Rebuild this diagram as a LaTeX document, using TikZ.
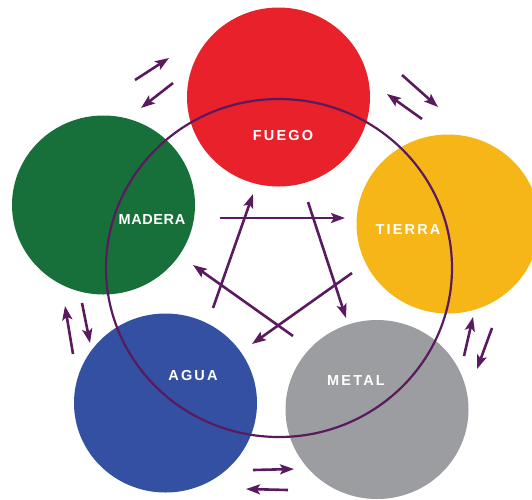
\documentclass[tikz,border=0pt]{standalone}
\usepackage{fontspec}
\setmainfont{Liberation Sans}
\usetikzlibrary{arrows.meta,shapes.geometric}
\definecolor{cred}{HTML}{E8212B}
\definecolor{cgreen}{HTML}{17703A}
\definecolor{cyellow}{HTML}{F7B618}
\definecolor{cblue}{HTML}{3450A3}
\definecolor{cgray}{HTML}{9B9DA0}
\definecolor{purp}{HTML}{5A1B5E}
\tikzset{
  disc/.style={ellipse, inner sep=0pt, draw=none, minimum width=183pt, minimum height=179pt},
  elabel/.style={text=white, font=\fontsize{14.5}{16}\selectfont\bfseries\addfontfeatures{LetterSpace=15}, inner sep=0pt},
  arr/.style={draw=purp, line width=2.6pt, -{Stealth[length=14pt,width=10pt,inset=3pt]}},
  ring/.style={draw=purp, line width=2.2pt}
}
\begin{document}
\begin{tikzpicture}[x=1pt,y=-1pt]
\fill[white] (0,0) rectangle (532,499);
\useasboundingbox (0,0) rectangle (532,499);
% discs
\node[disc, fill=cred]    (fuego)  at (278.5,97) {};
\node[disc, fill=cgreen]  (madera) at (103.5,205) {};
\node[disc, fill=cyellow] (tierra) at (448,224) {};
\node[disc, fill=cblue]   (agua)   at (165.5,403) {};
\node[disc, fill=cgray]   (metal)  at (377,409.5) {};
% big ring
\draw[ring] (279,268) ellipse [x radius=173pt, y radius=169pt];
% labels
\node[elabel] (tfuego)  at (283,136) {FUEGO};
\node[elabel, font=\fontsize{14.5}{16}\selectfont\bfseries\addfontfeatures{LetterSpace=4}] (tmadera) at (152,220) {MADERA};
\node[elabel] (ttierra) at (408,230) {TIERRA};
\node[elabel] (tagua)   at (193,375) {AGUA};
\node[elabel] (tmetal)  at (356,381) {METAL};
% pentagram arrow endpoints
\coordinate (p1a) at (220,218);  \coordinate (p1b) at (345,218);
\coordinate (p2a) at (308,202);  \coordinate (p2b) at (346,318);
\coordinate (p3a) at (352,273);  \coordinate (p3b) at (252,344);
\coordinate (p4a) at (293,336);  \coordinate (p4b) at (193,265);
\coordinate (p5a) at (213,308);  \coordinate (p5b) at (253,194);
\draw[arr] (p1a) -- (p1b);
\draw[arr] (p2a) -- (p2b);
\draw[arr] (p3a) -- (p3b);
\draw[arr] (p4a) -- (p4b);
\draw[arr] (p5a) -- (p5b);
% outer arrow pairs
\coordinate (a1a) at (135,80);  \coordinate (a1b) at (169,58);
\coordinate (a2a) at (173,83);  \coordinate (a2b) at (141,108);
\coordinate (b1a) at (402,75);  \coordinate (b1b) at (438,107);
\coordinate (b2a) at (422,119); \coordinate (b2b) at (387,94);
\coordinate (c1a) at (464,356); \coordinate (c1b) at (473,317);
\coordinate (c2a) at (492,328); \coordinate (c2b) at (477,369);
\coordinate (d1a) at (253,470); \coordinate (d1b) at (294,469);
\coordinate (d2a) at (288,490); \coordinate (d2b) at (246,489);
\coordinate (e1a) at (73,354);  \coordinate (e1b) at (65,306);
\coordinate (e2a) at (82,303);  \coordinate (e2b) at (90,343);
\draw[arr] (a1a) -- (a1b);
\draw[arr] (a2a) -- (a2b);
\draw[arr] (b1a) -- (b1b);
\draw[arr] (b2a) -- (b2b);
\draw[arr] (c1a) -- (c1b);
\draw[arr] (c2a) -- (c2b);
\draw[arr] (d1a) -- (d1b);
\draw[arr] (d2a) -- (d2b);
\draw[arr] (e1a) -- (e1b);
\draw[arr] (e2a) -- (e2b);
\end{tikzpicture}
\end{document}
